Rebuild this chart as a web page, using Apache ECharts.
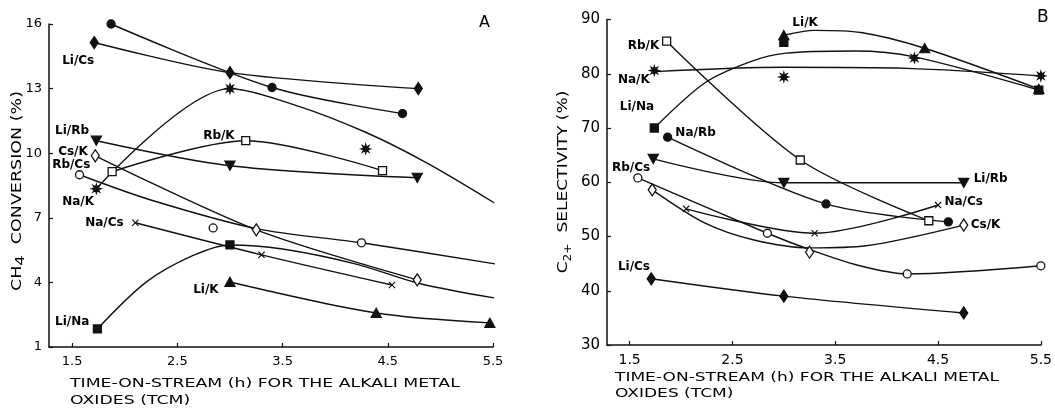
<!DOCTYPE html>
<html><head><meta charset="utf-8">
<script src="https://cdn.jsdelivr.net/npm/echarts@6/dist/echarts.min.js"></script>
<style>html,body{margin:0;padding:0;background:#fff}#c{width:1055px;height:409px}</style>
</head><body><div id="c"></div>
<script>
// ---------- axis ticks ----------
const xTicks = [1.5, 2.5, 3.5, 4.5, 5.5];
const yTicksA = [1, 4, 7, 10, 13, 16];
const yTicksB = [30, 40, 50, 60, 70, 80, 90];

// ---------- Panel A: CH4 conversion (%) ----------
const naRbA_pts = [[1.87,16.0],[3.40,13.05],[4.64,11.84]];
const liCsA_pts = [[1.71,15.14],[3.00,13.74],[4.79,13.0]];
const naKA_pts  = [[1.73,8.35],[3.00,13.0],[4.29,10.2],[5.51,7.7]];
const naKA_fit  = [[1.73,8.35],[3.00,13.0],[3.64,12.2],[4.30,10.95],[4.87,9.55],[5.51,7.7]];
const liRbA_pts = [[1.73,10.58],[3.00,9.42],[4.78,8.86]];
const csKA_pts  = [[1.72,9.88],[3.25,6.44],[4.78,4.12]];
const rbCsA_pts = [[1.57,9.0],[2.84,6.53],[4.25,5.84],[5.52,4.86]];
const rbCsA_fit = [[1.57,9.0],[2.24,7.84],[3.25,6.5],[4.25,5.84],[5.52,4.86]];
const rbKA_pts  = [[1.88,9.14],[3.15,10.58],[4.45,9.19]];
const naCsA_pts = [[2.10,6.77],[3.30,5.28],[4.54,3.88]];
const liNaA_pts = [[1.74,1.84],[3.00,5.74],[5.51,3.28]];
const liNaA_fit = [[1.74,1.84],[2.2,4.0],[2.65,5.25],[3.0,5.74],[3.5,5.55],[4.2,4.85],[4.8,3.95],[5.51,3.28]];
const liKA_pts  = [[3.00,4.02],[4.39,2.58],[5.47,2.12]];

// ---------- Panel B: C2+ selectivity (%) ----------
const liKB_pts  = [[3.00,87.1],[4.37,84.7],[5.48,77.2]];
const liKB_fit  = [[3.00,87.1],[3.3,88.0],[3.75,87.6],[4.37,84.7],[5.48,77.2]];
const liNaB_pts = [[1.74,70.0],[3.00,85.8],[5.48,77.0]];
const liNaB_fit = [[1.74,70.0],[2.23,78.3],[2.67,82.2],[3.02,83.8],[3.7,84.2],[4.27,83.1],[5.48,77.0]];
const naKB_pts  = [[1.74,80.6],[3.00,79.4],[4.27,82.9],[5.50,79.6]];
const naKB_fit  = [[1.74,80.4],[3.0,81.2],[4.2,81.0],[5.5,79.6]];
const rbKB_pts  = [[1.86,86.0],[3.16,64.1],[4.41,52.9]];
const naRbB_pts = [[1.87,68.3],[3.41,56.0],[4.60,52.7]];
const liRbB_pts = [[1.73,64.3],[3.00,59.9],[4.75,59.9]];
const rbCsB_pts = [[1.58,60.8],[2.84,50.6],[4.20,43.1],[5.50,44.6]];
const rbCsB_fit = [[1.58,60.8],[2.84,50.6],[3.25,47.6],[3.72,44.7],[4.20,43.1],[5.50,44.6]];
const csKB_pts  = [[1.72,58.6],[3.25,47.1],[4.75,52.1]];
const csKB_fit  = [[1.72,58.6],[2.23,52.5],[2.7,49.4],[3.25,47.9],[3.8,48.3],[4.75,52.1]];
const naCsB_pts = [[2.05,55.1],[3.30,50.6],[4.50,55.8]];
const liCsB_pts = [[1.71,42.2],[3.00,39.0],[4.75,35.9]];

// ---------- curve labels (text and data-coordinate anchor) ----------
const labelNamesA = ['Na/Rb','Li/Cs','Li/Rb','Cs/K','Rb/Cs','Na/K','Na/Cs','Rb/K','Li/K','Li/Na'];
const labelAnchorsA = [[1.386,16.02],[1.405,14.3],[1.338,11.05],[1.367,10.07],[1.31,9.47],[1.405,7.74],[1.624,6.77],[2.745,10.81],[2.65,3.65],[1.338,2.16]];
const labelNamesB = ['Li/K','Rb/K','Na/K','Li/Na','Na/Rb','Rb/Cs','Li/Rb','Na/Cs','Cs/K','Li/Cs'];
const labelAnchorsB = [[3.083,89.35],[1.481,85.1],[1.386,78.85],[1.405,73.87],[1.945,69.08],[1.329,62.63],[4.846,60.6],[4.562,56.36],[4.818,52.12],[1.386,44.38]];

// ---------- styles ----------
const INK = '#111';
const FONT = 'DejaVu Sans';
function starPath(){
  let p = [];
  for (let i = 0; i < 16; i++) {
    const r = (i % 2) ? 0.45 : 1;
    const a = i * Math.PI / 8 - Math.PI / 2;
    p.push((i ? 'L' : 'M') + (10 + 10 * r * Math.cos(a)).toFixed(2) + ',' + (10 + 10 * r * Math.sin(a)).toFixed(2));
  }
  return 'path://' + p.join('') + 'Z';
}
const SYM = {
  fCircle:  {symbol:'circle', size:8, fill:INK},
  fDiamond: {symbol:'diamond', size:[8,12], fill:INK},
  star:     {symbol:starPath(), size:9, fill:INK},
  dTri:     {symbol:'triangle', size:[10,9], fill:INK, rotate:180},
  oDiamond: {symbol:'diamond', size:[8,12], fill:'#fff'},
  oCircle:  {symbol:'circle', size:8, fill:'#fff'},
  oSquare:  {symbol:'rect', size:8, fill:'#fff'},
  cross:    {symbol:'path://M0,1.2L1.2,0L5,3.8L8.8,0L10,1.2L6.2,5L10,8.8L8.8,10L5,6.2L1.2,10L0,8.8L3.8,5Z', size:7, fill:INK, noBorder:true},
  fSquare:  {symbol:'rect', size:8, fill:INK},
  uTri:     {symbol:'triangle', size:[10,9], fill:INK}
};

const defs = [
  [0, naRbA_pts, null, 'fCircle'],
  [0, liCsA_pts, null, 'fDiamond'],
  [0, naKA_pts, naKA_fit, 'star'],
  [0, liRbA_pts, null, 'dTri'],
  [0, csKA_pts, null, 'oDiamond'],
  [0, rbCsA_pts, rbCsA_fit, 'oCircle'],
  [0, rbKA_pts, null, 'oSquare'],
  [0, naCsA_pts, null, 'cross'],
  [0, liNaA_pts, liNaA_fit, 'fSquare'],
  [0, liKA_pts, null, 'uTri'],
  [1, liKB_pts, liKB_fit, 'uTri'],
  [1, liNaB_pts, liNaB_fit, 'fSquare'],
  [1, naKB_pts, naKB_fit, 'star'],
  [1, rbKB_pts, null, 'oSquare'],
  [1, naRbB_pts, null, 'fCircle'],
  [1, liRbB_pts, null, 'dTri'],
  [1, rbCsB_pts, rbCsB_fit, 'oCircle'],
  [1, csKB_pts, csKB_fit, 'oDiamond'],
  [1, naCsB_pts, null, 'cross'],
  [1, liCsB_pts, null, 'fDiamond']
];

const series = [];
defs.forEach(([g, pts, fit, sk]) => {
  const s = SYM[sk];
  series.push({
    type:'line', xAxisIndex:g, yAxisIndex:g, data: fit || pts, smooth:0.3,
    showSymbol:false, silent:true, z:2,
    lineStyle:{color:INK, width:1.4}
  });
  series.push({
    type:'scatter', xAxisIndex:g, yAxisIndex:g, data: pts, silent:true, z:3,
    symbol:s.symbol, symbolSize:s.size, symbolRotate:s.rotate || 0,
    itemStyle:{color:s.fill, borderColor:INK, borderWidth: s.noBorder ? 0 : 1.3, opacity:1}
  });
});
function labelSeries(g, names, anchors){
  return {
    type:'scatter', xAxisIndex:g, yAxisIndex:g, silent:true, z:4,
    symbolSize:0, itemStyle:{opacity:1, color:'#000'},
    data: anchors.map((a, i) => ({value:a, name:names[i]})),
    label:{show:true, position:'right', distance:0, formatter:p => p.name,
      fontFamily:FONT, fontSize:12, fontWeight:'bold', color:'#000', opacity:1}
  };
}
series.push(labelSeries(0, labelNamesA, labelAnchorsA));
series.push(labelSeries(1, labelNamesB, labelAnchorsB));

function xAxis(g, fs){
  return {
    type:'value', gridIndex:g, min:1.28, max:5.5,
    axisLine:{show:true, onZero:false, lineStyle:{color:INK, width:1.5}},
    axisTick:{show:true, inside:true, length:4, customValues:xTicks, lineStyle:{color:INK, width:1.2}},
    axisLabel:{customValues:xTicks, formatter:v => v.toFixed(1), fontFamily:FONT, fontSize:fs, color:'#000', margin:8},
    splitLine:{show:false}
  };
}
function yAxis(g, min, max, ticks, fs){
  return {
    type:'value', gridIndex:g, min:min, max:max,
    axisLine:{show:true, onZero:false, lineStyle:{color:INK, width:1.5}},
    axisTick:{show:true, inside:true, length:4, customValues:ticks, lineStyle:{color:INK, width:1.2}},
    axisLabel:{customValues:ticks, fontFamily:FONT, fontSize:fs, color:'#000', margin:7},
    splitLine:{show:false}
  };
}

const richName = {
  b:{fontFamily:FONT, fontSize:14, fill:'#000', lineHeight:20, verticalAlign:'middle'},
  s:{fontFamily:FONT, fontSize:13, fill:'#000', lineHeight:20, verticalAlign:'bottom'},
  t:{fontFamily:FONT, fontSize:10, fill:'#000', lineHeight:20, verticalAlign:'bottom'}
};
const xName = 'TIME-ON-STREAM (h) FOR THE ALKALI METAL\nOXIDES (TCM)';

const option = {
  animation:false,
  backgroundColor:'#fff',
  grid:[
    {left:49, top:24, width:444, height:323},
    {left:607, top:19.5, width:445, height:325.5}
  ],
  xAxis:[xAxis(0, 13), xAxis(1, 14)],
  yAxis:[yAxis(0, 1, 16, yTicksA, 13), yAxis(1, 30, 90, yTicksB, 15)],
  graphic:[
    {type:'text', left:479, top:15, style:{text:'A', fontFamily:FONT, fontSize:16, fill:'#000'}},
    {type:'text', left:1037, top:9, style:{text:'B', fontFamily:FONT, fontSize:17, fill:'#000'}},
    {type:'text', x:70, y:375, scaleX:1.33, style:{text:xName, fontFamily:FONT, fontSize:13, lineHeight:17, fill:'#000'}},
    {type:'text', x:615, y:370, scaleX:1.31, style:{text:xName, fontFamily:FONT, fontSize:13, lineHeight:16, fill:'#000'}},
    {type:'text', x:17, y:191, rotation:Math.PI/2, scaleX:1.25,
      style:{text:'{b|CH}{s|4}{b|  CONVERSION (%)}', rich:richName, align:'center', verticalAlign:'middle', fill:'#000'}},
    {type:'text', x:563, y:182, rotation:Math.PI/2, scaleX:1.22,
      style:{text:'{b|C}{t|2+}{b|  SELECTIVITY (%)}', rich:richName, align:'center', verticalAlign:'middle', fill:'#000'}}
  ],
  series:series
};
const chart = echarts.init(document.getElementById('c'), null, {renderer:'canvas'});
chart.setOption(option);
</script></body></html>
